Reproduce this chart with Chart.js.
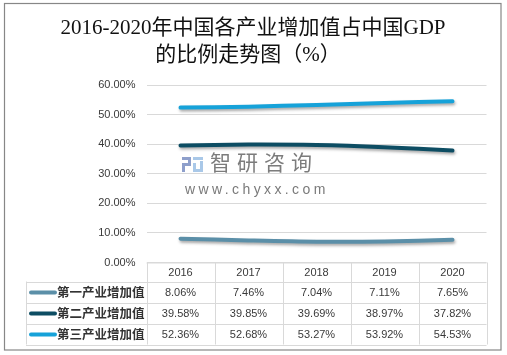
<!DOCTYPE html>
<html>
<head>
<meta charset="utf-8">
<script src="https://cdn.jsdelivr.net/npm/chart.js@4/dist/chart.umd.min.js"></script>
<style>
  html, body { margin: 0; padding: 0; background: #fff; }
  #c { display: block; }
</style>
</head>
<body>
<canvas id="c" width="507" height="355"></canvas>
<script>
// ---- data ----
const years = ['2016', '2017', '2018', '2019', '2020'];
const seriesNames = ['第一产业增加值', '第二产业增加值', '第三产业增加值'];
const primaryShare = [8.06, 7.46, 7.04, 7.11, 7.65];
const secondaryShare = [39.58, 39.85, 39.69, 38.97, 37.82];
const tertiaryShare = [52.36, 52.68, 53.27, 53.92, 54.53];
const titleLines = ['2016-2020年中国各产业增加值占中国GDP', '的比例走势图（%）'];
const yMin = 0, yMax = 60, yStep = 10;

const seriesValues = [primaryShare, secondaryShare, tertiaryShare];
const seriesColors = ['#5b8fa8', '#0d4d63', '#16a2d9'];

const fmt = v => v.toFixed(2) + '%';

const deco = {
  id: 'deco',
  beforeDraw(chart) {
    const ctx = chart.ctx;
    ctx.save();
    ctx.fillStyle = '#ffffff';
    ctx.fillRect(0, 0, chart.width, chart.height);
    ctx.restore();
  },
  beforeDatasetsDraw(chart) {
    const ctx = chart.ctx;
    // watermark
    ctx.save();
    ctx.fillStyle = '#8e9fcb';
    ctx.fillRect(182, 157, 9, 3);
    ctx.fillRect(188, 157, 3, 9);
    ctx.fillRect(182, 163, 9, 3);
    ctx.fillRect(182, 163, 3, 9);
    ctx.fillStyle = '#a9c8e8';
    ctx.fillRect(193, 157, 10, 3);
    ctx.fillRect(193, 163, 3, 9);
    ctx.fillRect(193, 169, 10, 3);
    ctx.fillRect(200, 161, 3, 8);
    ctx.fillStyle = '#7c7c7c';
    ctx.font = '21px "Noto Sans CJK SC"';
    ctx.textBaseline = 'middle';
    ctx.textAlign = 'left';
    if ('letterSpacing' in ctx) ctx.letterSpacing = '6px';
    ctx.fillText('智研咨询', 210, 162);
    ctx.font = '14px "Liberation Sans"';
    if ('letterSpacing' in ctx) ctx.letterSpacing = '3.4px';
    ctx.fillStyle = '#7a7a7a';
    ctx.fillText('www.chyxx.com', 185, 190);
    ctx.restore();
    // shadow for lines
    ctx.save();
    ctx.shadowColor = 'rgba(0,0,0,0.35)';
    ctx.shadowBlur = 3;
    ctx.shadowOffsetX = 1;
    ctx.shadowOffsetY = 2;
  },
  afterDatasetsDraw(chart) {
    chart.ctx.restore();
  },
  afterDraw(chart) {
    const ctx = chart.ctx;
    const ca = chart.chartArea;
    const xs = chart.scales.x;
    const n = years.length;
    const colW = (ca.right - ca.left) / n;
    const tableLeft = 26;
    const rowTops = [ca.bottom, ca.bottom + 19, ca.bottom + 40, ca.bottom + 61, ca.bottom + 82];

    ctx.save();
    // title
    ctx.fillStyle = '#111111';
    ctx.font = '21px "Liberation Serif", "Noto Sans CJK SC"';
    ctx.textAlign = 'center';
    ctx.textBaseline = 'middle';
    ctx.fillText(titleLines[0], 253, 28.5);
    ctx.fillText(titleLines[1], 248, 55.5);

    // outer border
    ctx.strokeStyle = '#878787';
    ctx.lineWidth = 1.2;
    ctx.strokeRect(4.5, 3.5, 496.5, 346.5);

    // table grid
    ctx.strokeStyle = '#d9d9d9';
    ctx.lineWidth = 1;
    ctx.beginPath();
    ctx.moveTo(ca.left, rowTops[0] + 0.5);
    ctx.lineTo(ca.right, rowTops[0] + 0.5);
    for (let r = 1; r < rowTops.length; r++) {
      const y = Math.round(rowTops[r]) + 0.5;
      ctx.moveTo(tableLeft, y);
      ctx.lineTo(ca.right, y);
    }
    for (let k = 0; k <= n; k++) {
      const x = Math.round(ca.left + k * colW) + 0.5;
      ctx.moveTo(x, rowTops[0]);
      ctx.lineTo(x, rowTops[rowTops.length - 1]);
    }
    ctx.moveTo(tableLeft + 0.5, rowTops[1]);
    ctx.lineTo(tableLeft + 0.5, rowTops[rowTops.length - 1]);
    ctx.stroke();

    // header years
    ctx.fillStyle = '#3a3a3a';
    ctx.font = '11px "Liberation Sans"';
    ctx.textAlign = 'center';
    ctx.textBaseline = 'middle';
    years.forEach((yr, i) => {
      ctx.fillText(yr, xs.getPixelForValue(i), (rowTops[0] + rowTops[1]) / 2 + 1);
    });

    // rows
    seriesValues.forEach((vals, s) => {
      const yc = (rowTops[s + 1] + rowTops[s + 2]) / 2 + 0.5;
      // legend key
      ctx.strokeStyle = seriesColors[s];
      ctx.lineWidth = 4;
      ctx.lineCap = 'round';
      ctx.beginPath();
      ctx.moveTo(31, yc);
      ctx.lineTo(55, yc);
      ctx.stroke();
      ctx.fillStyle = '#333333';
      ctx.font = 'bold 12.5px "Noto Sans CJK SC"';
      ctx.textAlign = 'left';
      ctx.fillText(seriesNames[s], 57, yc);
      ctx.font = '11px "Liberation Sans"';
      ctx.textAlign = 'center';
      ctx.fillStyle = '#3a3a3a';
      vals.forEach((v, i) => {
        ctx.fillText(fmt(v), xs.getPixelForValue(i), yc);
      });
    });
    ctx.restore();
  }
};

new Chart(document.getElementById('c'), {
  type: 'line',
  data: {
    labels: years,
    datasets: seriesValues.map((vals, s) => ({
      label: seriesNames[s],
      data: vals,
      borderColor: seriesColors[s],
      backgroundColor: seriesColors[s],
      borderWidth: 4,
      borderCapStyle: 'round',
      borderJoinStyle: 'round',
      pointRadius: 0,
      pointHoverRadius: 0,
      tension: 0.3,
      fill: false
    }))
  },
  options: {
    responsive: false,
    animation: false,
    devicePixelRatio: 1,
    layout: { padding: { left: 0, right: 20.5, top: 85, bottom: 92.5 } },
    plugins: {
      legend: { display: false },
      title: { display: false },
      tooltip: { enabled: false }
    },
    scales: {
      x: {
        type: 'category',
        offset: true,
        display: false
      },
      y: {
        min: yMin,
        max: yMax,
        afterFit(scale) { scale.width = 146.5; },
        border: { display: false },
        grid: { color: '#d9d9d9', lineWidth: 1, drawTicks: false },
        ticks: {
          stepSize: yStep,
          padding: 11,
          color: '#3a3a3a',
          font: { family: '"Liberation Sans"', size: 11 },
          callback: v => fmt(v)
        }
      }
    }
  },
  plugins: [deco]
});
</script>
</body>
</html>
